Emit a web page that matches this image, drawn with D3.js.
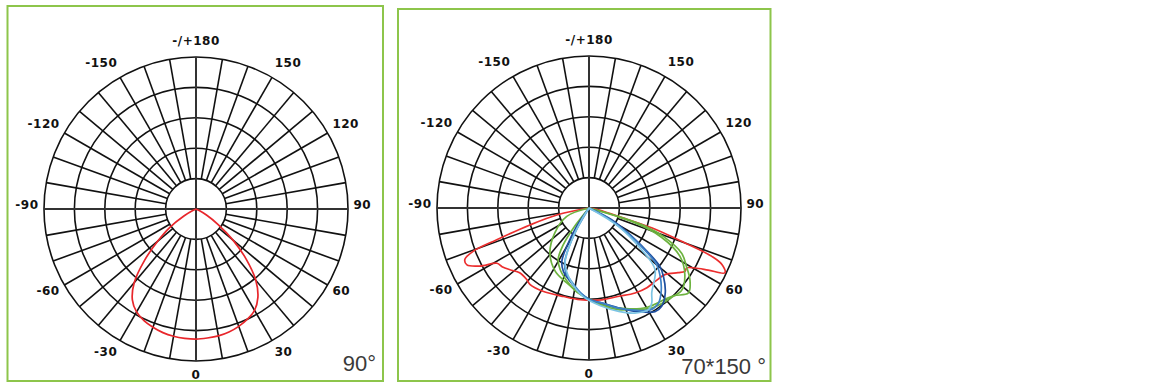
<!DOCTYPE html>
<html>
<head>
<meta charset="utf-8">
<script src="https://cdn.jsdelivr.net/npm/d3@7"></script>
<style>
body { margin: 0; background: #fff; }
svg { display: block; }
.lbl { font-family: 'DejaVu Sans', Verdana, sans-serif; font-weight: bold; font-size: 12px; fill: #111; letter-spacing: 0.5px; }
.corner { font-family: 'Liberation Sans', Arial, sans-serif; font-size: 22px; fill: #3a3a3a; }
</style>
</head>
<body>
<svg width="1173" height="388"></svg>
<script>
// grid: ring values (cd/klm), spokes every 10 deg, angle labels
const ringTicks = [100, 200, 300, 400, 500];
const spokeAngles = d3.range(0, 360, 10);
const angleLabels = [0, 30, 60, 90, 120, 150, 180, -150, -120, -90, -60, -30];

// panel 1 : 90 deg beam
const beamAngles = [-70, -65, -60, -55, -50, -45, -40, -35, -30, -25, -20, -15, -10, -5, 0,
  5, 10, 15, 20, 25, 30, 35, 40, 45, 50, 55, 60, 65, 70];
const beamValues = [0, 10, 46, 105, 164, 240, 316, 365, 391, 405, 414, 421, 425, 427, 428,
  426, 424, 419, 411, 400, 385, 355, 306, 234, 158, 89, 41, 10, 0];

// panel 2 : 70*150 deg, several C-planes
const redAngles = [-82, -78, -74, -71, -69.5, -67.5, -65, -62, -59, -56, -52, -47, -41, -37.5, -29, -16, -5.5,
  8, 18, 28.5, 36, 42, 49, 54, 56.5, 58.5, 60.5, 62.5, 64.5, 67, 68.5, 70, 72.5, 74, 79.5, 82];
const redValues = [0, 103, 202, 321, 407, 442, 443, 407, 353, 345, 330, 312, 312, 318, 313, 303, 303,
  305, 306, 318, 324, 325, 333, 362, 378, 377, 401, 442, 495, 475, 434, 336, 216, 100, 31, 0];

const greenAngles = [-76, -69.5, -54, -41, -28, -16.5, -3.5, 6.5, 16, 20.5, 32, 41, 44, 49.5, 54.5, 59, 64, 69, 72, 74, 76];
const greenValues = [0, 78, 139, 196, 236, 257, 291, 320, 348, 357, 388, 399, 402, 430, 408, 374, 339, 263, 197, 99, 0];

const green2Angles = [-42, -38, -35, -31, -25, -17, -8, 0, 10, 20, 30, 40, 48, 55, 62, 68, 72, 75];
const green2Values = [0, 82, 148, 197, 224, 250, 280, 299, 326, 352, 378, 391, 408, 385, 339, 257, 158, 0];

const navyAngles = [-37, -34, -30, -27, -22, -14.5, -6, 0.5, 7.5, 16.5, 24, 32.5, 36.5, 42, 47.5, 50.5, 53, 56.5, 62.5, 66];
const navyValues = [0, 73, 146, 197, 225, 249, 281, 302, 315, 343, 372, 404, 402, 375, 332, 302, 245, 169, 84, 0];

const blueAngles = [-33, -30, -27, -24, -20, -13, -5, 1, 8, 16, 24, 31, 36, 41, 46, 50, 53, 57, 62, 65];
const blueValues = [0, 82, 148, 197, 224, 250, 283, 303, 316, 342, 368, 391, 388, 362, 326, 290, 230, 148, 66, 0];

const skyAngles = [-35, -32, -29, -26.5, -23.5, -15, -3.5, 7.5, 16, 23.5, 30.5, 33.5, 36.5, 47, 51.5, 58, 62];
const skyValues = [0, 46, 105, 155, 197, 243, 293, 326, 354, 377, 387, 374, 347, 297, 221, 114, 0];

const svg = d3.select("svg");
const R = 152;
const r = d3.scaleLinear().domain([0, 500]).range([0, R]);
const rad = a => a * Math.PI / 180;

function panel(bx, by, bw, bh, cx, cy, title, curves) {
    svg.append("rect")
        .attr("x", bx).attr("y", by).attr("width", bw).attr("height", bh)
        .attr("fill", "none").attr("stroke", "#8dc54b").attr("stroke-width", 2);

    const g = svg.append("g").attr("transform", `translate(${cx},${cy})`);

    g.selectAll(".ring").data(ringTicks).enter().append("circle")
        .attr("r", d => r(d))
        .attr("fill", "none").attr("stroke", "#111").attr("stroke-width", 1.6);

    g.selectAll(".spoke").data(spokeAngles.filter(a => a % 90 != 0)).enter().append("line")
        .attr("x1", a => r(ringTicks[0]) * Math.sin(rad(a)))
        .attr("y1", a => r(ringTicks[0]) * Math.cos(rad(a)))
        .attr("x2", a => R * Math.sin(rad(a)))
        .attr("y2", a => R * Math.cos(rad(a)))
        .attr("stroke", "#111").attr("stroke-width", 1.6);

    // the cross goes through the middle
    g.append("line").attr("x1", -R).attr("x2", R).attr("y1", 0).attr("y2", 0)
        .attr("stroke", "#333").attr("stroke-width", 2);
    g.append("line").attr("y1", -R).attr("y2", R).attr("x1", 0).attr("x2", 0)
        .attr("stroke", "#333").attr("stroke-width", 2);

    g.selectAll(".lbl").data(angleLabels).enter().append("text")
        .attr("class", "lbl")
        .attr("text-anchor", a => (a == 0 || a == 180) ? "middle" : (a > 0 ? "start" : "end"))
        .attr("x", a => (a == 0 || a == 180) ? 0 : 157.5 * Math.sin(rad(a)))
        .attr("y", a => 167 * Math.cos(rad(a)) - (Math.abs(a) == 90 ? 4 : 1.5))
        .attr("dy", "0.36em")
        .text(a => a == 180 ? "-/+180" : String(a));

    const line = d3.lineRadial()
        .angle(d => Math.PI - rad(d[0]))
        .radius(d => r(d[1]))
        .curve(d3.curveCatmullRom.alpha(0.5));

    curves.forEach(c => {
        g.append("path")
            .datum(d3.zip(c.angles, c.values))
            .attr("d", line)
            .attr("fill", "none")
            .attr("stroke", c.color)
            .attr("stroke-width", 1.7);
    });

    svg.append("text").attr("class", "corner")
        .attr("x", title.x).attr("y", title.y)
        .attr("text-anchor", "end")
        .text(title.text);
}

panel(7.5, 6, 375.5, 375, 196, 209, {x: 376, y: 371, text: "90°"}, [
    {angles: beamAngles, values: beamValues, color: "#e8262b"}
]);

panel(398, 9, 372.5, 372, 589, 208, {x: 766, y: 374, text: "70*150 °"}, [
    {angles: redAngles, values: redValues, color: "#ec2e2e"},
    {angles: greenAngles, values: greenValues, color: "#6db33f"},
    {angles: green2Angles, values: green2Values, color: "#6db33f"},
    {angles: navyAngles, values: navyValues, color: "#1f4f9e"},
    {angles: blueAngles, values: blueValues, color: "#3d80c6"},
    {angles: skyAngles, values: skyValues, color: "#7cc4e4"}
]);
</script>
</body>
</html>
